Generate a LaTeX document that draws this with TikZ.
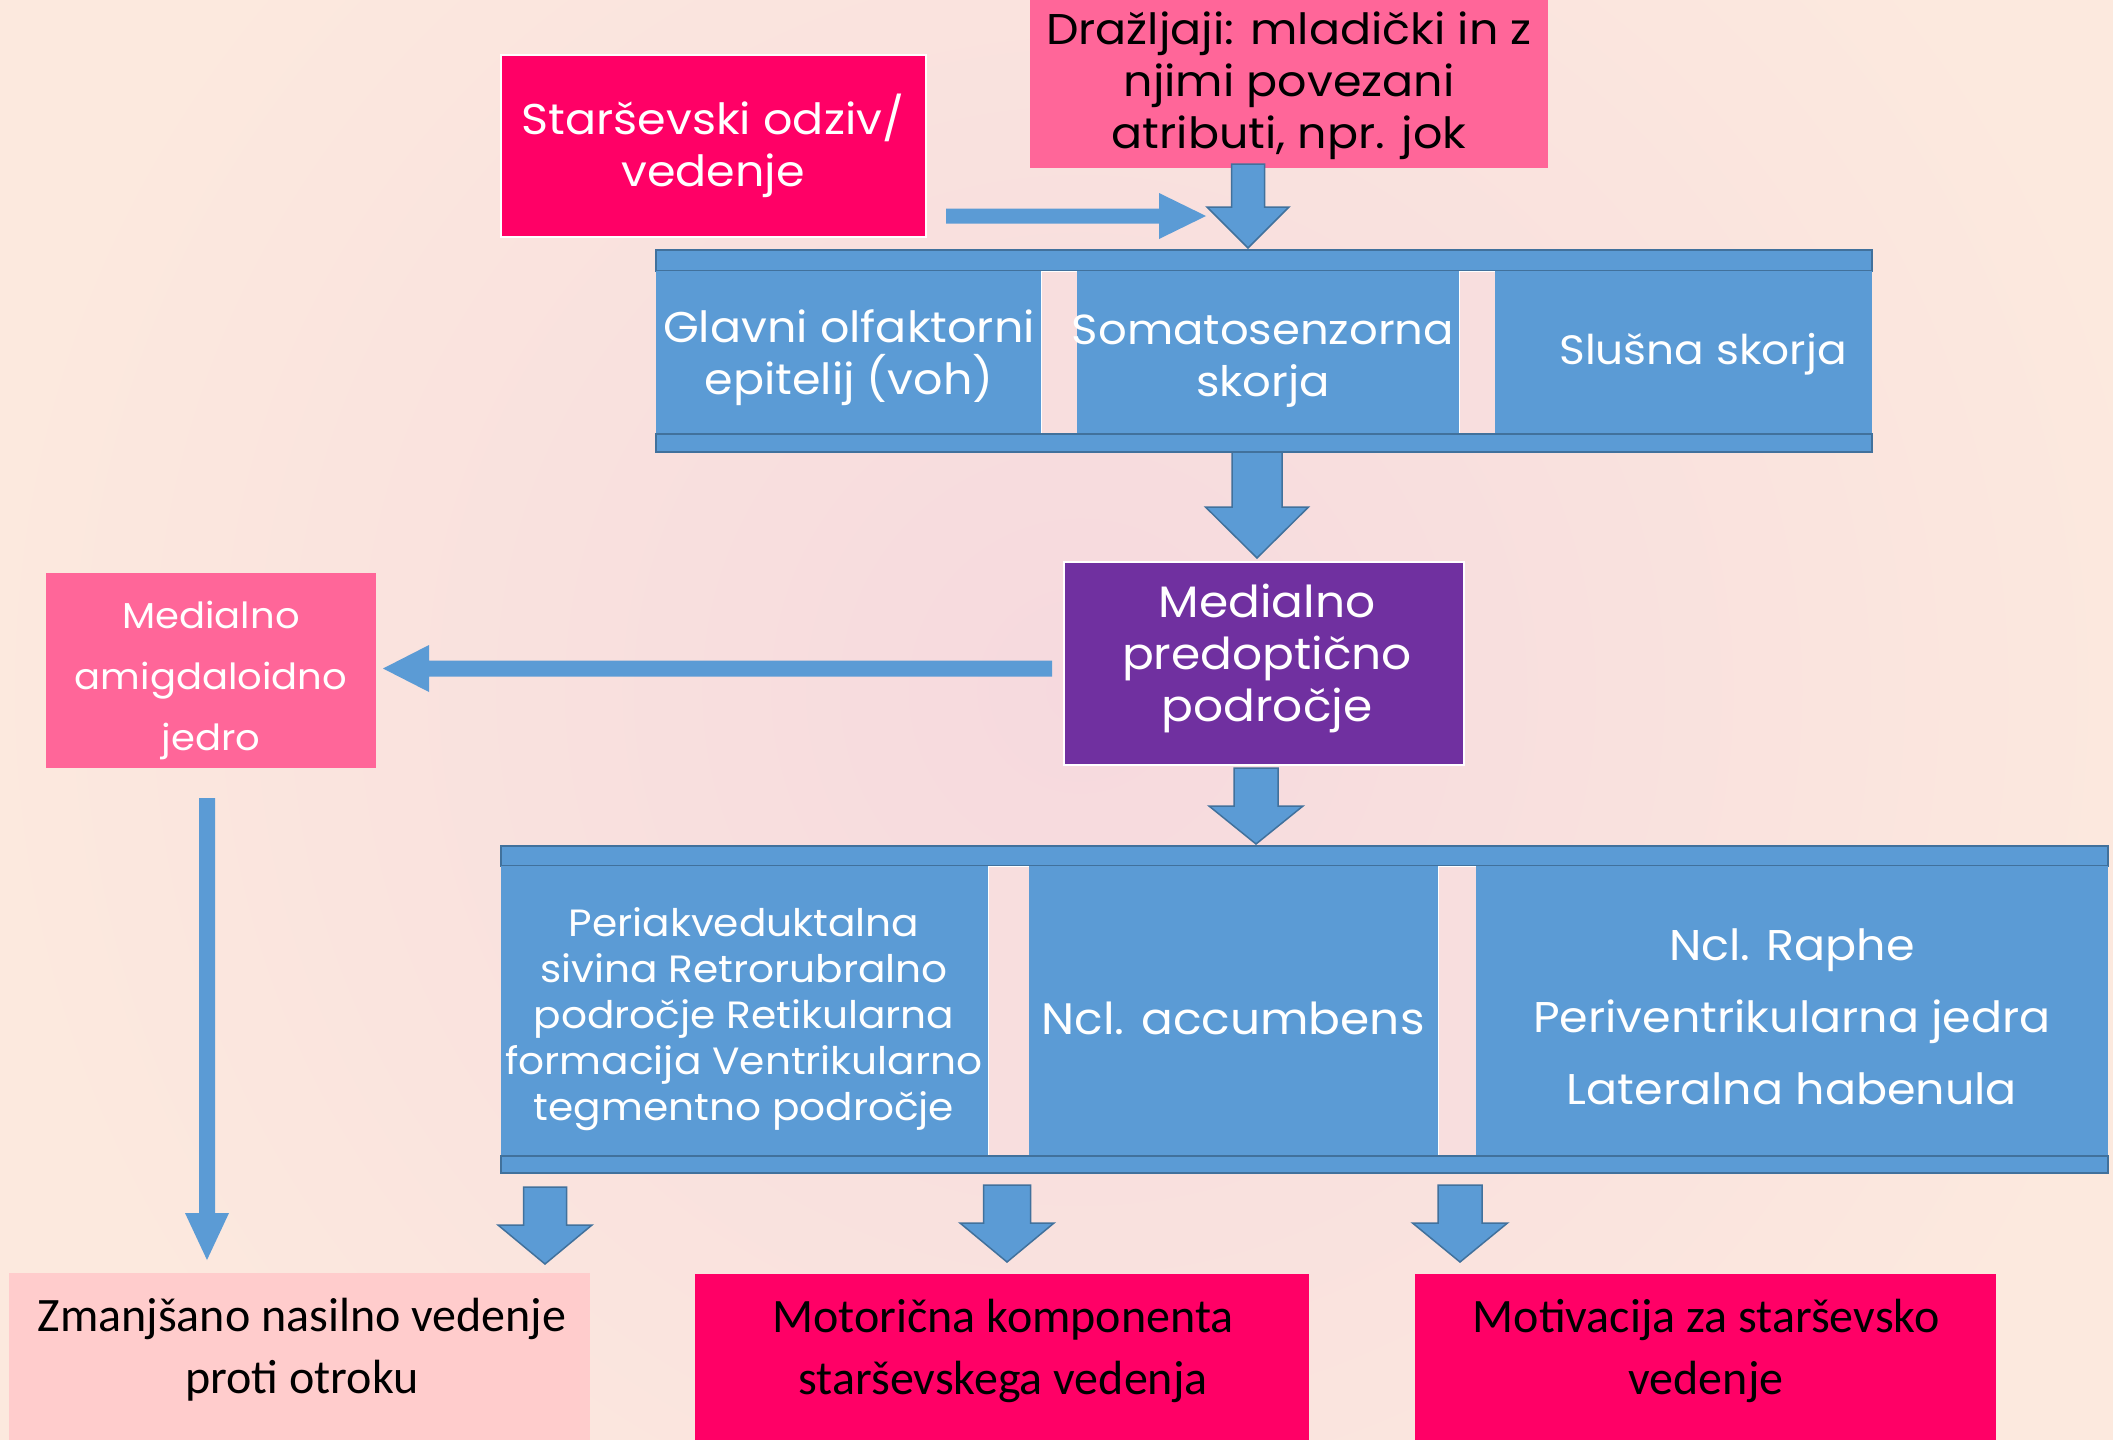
\documentclass[tikz,border=0pt]{standalone}
\usepackage{fontspec}
\setmainfont{Poppins}[FakeStretch=1.07]
\newfontfamily\calib{Carlito}
\usetikzlibrary{calc}
\definecolor{bg}{HTML}{FCE9DE}
\definecolor{blob}{HTML}{F6D9DE}
\definecolor{hot}{HTML}{FF0066}
\definecolor{rose}{HTML}{FF6699}
\definecolor{purp}{HTML}{7030A0}
\definecolor{blush}{HTML}{FFCCCC}
\definecolor{blk}{HTML}{5B9BD5}
\definecolor{blkline}{HTML}{41719C}
\definecolor{gapc}{HTML}{F8DEDE}
\newcommand\vblock[6][]{\filldraw[blockarrow,#1] let \p1=(#2),\p2=(#3) in
  (\x2-#4,\y1) -- (\x2+#4,\y1) -- (\x2+#4,\y2+#6) -- (\x2+#5,\y2+#6) -- (\x2,\y2)
  -- (\x2-#5,\y2+#6) -- (\x2-#4,\y2+#6) -- cycle;}
\newcommand\rblock[6][]{\filldraw[blockarrow,#1] let \p1=(#2),\p2=(#3) in
  (\x1,\y2+#4) -- (\x1,\y2-#4) -- (\x2-#6,\y2-#4) -- (\x2-#6,\y2-#5) -- (\x2,\y2)
  -- (\x2-#6,\y2+#5) -- (\x2-#6,\y2+#4) -- cycle;}
\newcommand\lblock[6][]{\filldraw[blockarrow,#1] let \p1=(#2),\p2=(#3) in
  (\x1,\y2+#4) -- (\x1,\y2-#4) -- (\x2+#6,\y2-#4) -- (\x2+#6,\y2-#5) -- (\x2,\y2)
  -- (\x2+#6,\y2+#5) -- (\x2+#6,\y2+#4) -- cycle;}
\begin{document}
\begin{tikzpicture}[x=1pt,y=-1pt,
  box/.style={rectangle,inner sep=0pt,outer sep=0pt},
  txt/.style={inner sep=0pt,align=center,text=white},
  bar/.style={box,fill=blk,draw=blkline,line width=2pt},
  col/.style={box,fill=blk},
  gapbox/.style={box,fill=gapc,draw=white,line width=1pt},
  blockarrow/.style={fill=blk,draw=blkline,line width=1.5pt},
  flat/.style={draw=none},
  fA/.style={font=\fontsize{43}{52}\selectfont},
  fB/.style={font=\fontsize{38}{46}\selectfont},
  fC/.style={font=\calib\fontsize{48}{62}\selectfont}]
\useasboundingbox (0,0) rectangle (2113,1440);
\clip (0,0) rectangle (2113,1440);
\fill[bg] (0,0) rectangle (2113,1440);
\shade[inner color=blob,outer color=bg] (1080,690) circle[radius=1100];

% top boxes
\node[box,fill=hot,draw=white,line width=2pt,minimum width=425pt,minimum height=182pt] (star) at (713.5,146) {};
\node[txt,fA] (star-t) at (713,146) {Starševski odziv/\\vedenje};
\node[box,fill=rose,minimum width=518pt,minimum height=170pt] (drz) at (1289,83) {};
\node[txt,fA,text=black] (drz-t) at (1289,86) {Dražljaji: mladički in z\\njimi povezani\\atributi, npr. jok};

% upper band
\node[bar,minimum width=1216pt,minimum height=21pt] (b1top) at (1264,260.5) {};
\node[col,minimum width=385pt,minimum height=163pt] (c11) at (848.5,352.5) {};
\node[gapbox,minimum width=36pt,minimum height=163pt] (g11) at (1059,352.5) {};
\node[col,minimum width=382pt,minimum height=163pt] (c12) at (1268,352.5) {};
\node[gapbox,minimum width=36pt,minimum height=163pt] (g12) at (1477,352.5) {};
\node[col,minimum width=377pt,minimum height=163pt] (c13) at (1683.5,352.5) {};
\node[bar,minimum width=1216pt,minimum height=18pt] (b1bot) at (1264,443) {};
\node[txt,fA] (c11-t) at (849,358) {Glavni olfaktorni\\epitelij (voh)};
\node[txt,font=\fontsize{42}{52}\selectfont] (c12-t) at (1263,361) {Somatosenzorna\\skorja};
\node[txt,font=\fontsize{41}{52}\selectfont] (c13-t) at (1703,354) {Slušna skorja};

% middle
\node[box,fill=purp,draw=white,line width=2pt,minimum width=400pt,minimum height=203pt] (mpoa) at (1264,663.5) {};
\node[txt,font=\fontsize{44}{52}\selectfont] (mpoa-t) at (1267,658) {Medialno\\predoptično\\področje};
\node[box,fill=rose,minimum width=330pt,minimum height=195pt] (amyg) at (211,670.5) {};
\node[txt,font=\fontsize{36}{61}\selectfont] (amyg-t) at (211,680) {Medialno\\amigdaloidno\\jedro};

% lower band
\node[bar,minimum width=1607pt,minimum height=20pt] (b2top) at (1304.5,856) {};
\node[col,minimum width=487pt,minimum height=290pt] (c21) at (744.5,1011) {};
\node[gapbox,minimum width=41pt,minimum height=290pt] (g21) at (1008.5,1011) {};
\node[col,minimum width=409pt,minimum height=290pt] (c22) at (1233.5,1011) {};
\node[gapbox,minimum width=38pt,minimum height=290pt] (g22) at (1457,1011) {};
\node[col,minimum width=632pt,minimum height=290pt] (c23) at (1792,1011) {};
\node[bar,minimum width=1607pt,minimum height=17pt] (b2bot) at (1304.5,1164.5) {};
\node[txt,fB] (c21-t) at (744,1019) {Periakveduktalna\\sivina Retrorubralno\\področje Retikularna\\formacija Ventrikularno\\tegmentno področje};
\node[txt,font=\fontsize{44}{52}\selectfont] (c22-t) at (1233,1018) {Ncl. accumbens};
\node[txt,font=\fontsize{43}{72}\selectfont] (c23-t) at (1792,1017) {Ncl. Raphe\\Periventrikularna jedra\\Lateralna habenula};

% bottom boxes
\node[box,fill=blush,minimum width=581pt,minimum height=180pt] (zm) at (299.5,1363) {};
\node[txt,fC,text=black] (zm-t) at (302,1350) {Zmanjšano nasilno vedenje\\proti otroku};
\node[box,fill=hot,minimum width=614pt,minimum height=180pt] (mot) at (1002,1364) {};
\node[txt,fC,text=black] (mot-t) at (1003,1351) {Motorična komponenta\\starševskega vedenja};
\node[box,fill=hot,minimum width=581pt,minimum height=180pt] (mtv) at (1705.5,1364) {};
\node[txt,fC,text=black] (mtv-t) at (1706,1351) {Motivacija za starševsko\\vedenje};

% connector coordinates
\coordinate (ah-s) at ($(star.south east)+(20,-21)$);
\coordinate (ah-e) at (1206,216);
\coordinate (a1-s) at ($(drz.south)+(-41,-4)$);
\coordinate (a1-e) at ($(a1-s |- b1top.north)+(0,-2)$);
\coordinate (a2-s) at ($(b1bot.south)+(-7,0)$);
\coordinate (a2-e) at ($(a2-s |- mpoa.north)+(0,-4)$);
\coordinate (a3-s) at ($(mpoa.west)+(-12,6)$);
\coordinate (a3-e) at ($(amyg.east)+(7,-2)$);
\coordinate (a4-s) at ($(mpoa.south)+(-8,3)$);
\coordinate (a4-e) at ($(a4-s |- b2top.north)+(0,-2)$);
\coordinate (a5-s) at ($(amyg.south)+(-4,30)$);
\coordinate (a5-e) at ($(a5-s |- zm.north)+(0,-13)$);
\coordinate (a6-s) at ($(b2bot.south -| 545,0)+(0,14)$);
\coordinate (a6-e) at ($(a6-s |- zm.north)+(0,-9)$);
\coordinate (a7-s) at ($(b2bot.south -| 1007,0)+(0,12)$);
\coordinate (a7-e) at ($(a7-s |- mot.north)+(0,-12)$);
\coordinate (a8-s) at ($(b2bot.south -| 1460,0)+(0,12)$);
\coordinate (a8-e) at ($(a8-s |- mtv.north)+(0,-12)$);

% connectors
\rblock[flat]{ah-s}{ah-e}{7.5pt}{23pt}{47pt}
\vblock{a1-s}{a1-e}{16.5pt}{41pt}{41pt}
\vblock{a2-s}{a2-e}{25pt}{51.5pt}{51pt}
\lblock[flat]{a3-s}{a3-e}{8pt}{23.5pt}{46pt}
\vblock{a4-s}{a4-e}{22pt}{47pt}{38pt}
\vblock[flat]{a5-s}{a5-e}{8pt}{22pt}{47pt}
\vblock{a6-s}{a6-e}{21.5pt}{47pt}{39pt}
\vblock{a7-s}{a7-e}{23.5pt}{47pt}{39pt}
\vblock{a8-s}{a8-e}{22pt}{47.5pt}{39pt}
\end{tikzpicture}
\end{document}
